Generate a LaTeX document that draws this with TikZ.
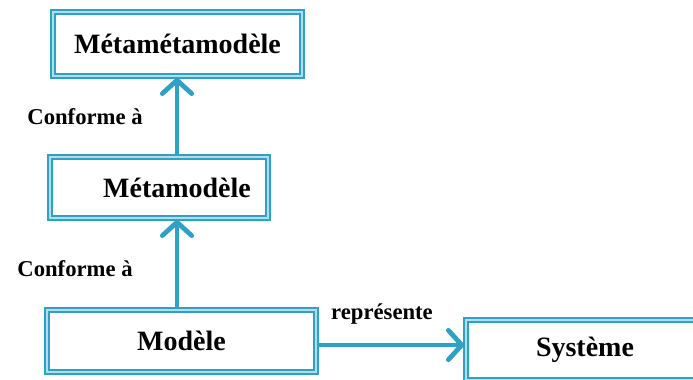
\documentclass[tikz,border=0pt]{standalone}
\usepackage{fontspec}
\setmainfont{Liberation Serif}
\usetikzlibrary{arrows.meta}
\definecolor{mdeblue}{RGB}{48,160,196}
\definecolor{mdelight}{RGB}{175,222,236}
\tikzstyle{modelbox} = [draw=mdeblue, line width=1.5pt, double=mdelight, double distance=1.2pt, fill=white, inner sep=0, font=\bfseries\fontsize{21}{24}\selectfont]
\tikzstyle{relarrow} = [draw=mdeblue, line width=3.6pt, -{Straight Barb[length=10pt, width=22pt, line cap=round]}]
\tikzstyle{rellabel} = [font=\bfseries\fontsize{17}{20}\selectfont]

\begin{document}
\begin{tikzpicture}[x=0.75pt, y=-0.75pt]
      \useasboundingbox (0, 0) rectangle (693, 379);
      \node[modelbox, minimum width=249*0.75pt, minimum height=64*0.75pt] (metameta) at (177.5, 44) {Métamétamodèle};
      \node[modelbox, minimum width=218*0.75pt, minimum height=61*0.75pt] (meta) at (159, 187.5) {\hspace*{27pt}Métamodèle};
      \node[modelbox, minimum width=269*0.75pt, minimum height=62*0.75pt] (model) at (181.5, 341) {Modèle};
      \node[modelbox, minimum width=238*0.75pt, minimum height=60*0.75pt] (system) at (585, 350) {Système};

      \node[rellabel] (conf1) at (85, 117) {Conforme à};
      \node[rellabel] (conf2) at (75, 269) {Conforme à};
      \node[rellabel] (repr) at (382, 314) {représente};

      \coordinate (up) at (177, 0);
      \draw[relarrow] (model.north -| up) -- (meta.south -| up);
      \draw[relarrow] (meta.north -| up) -- (metameta.south -| up);
      \draw[relarrow] (model.east |- 0, 345) -- (system.west |- 0, 345);
    \end{tikzpicture}
\end{document}
